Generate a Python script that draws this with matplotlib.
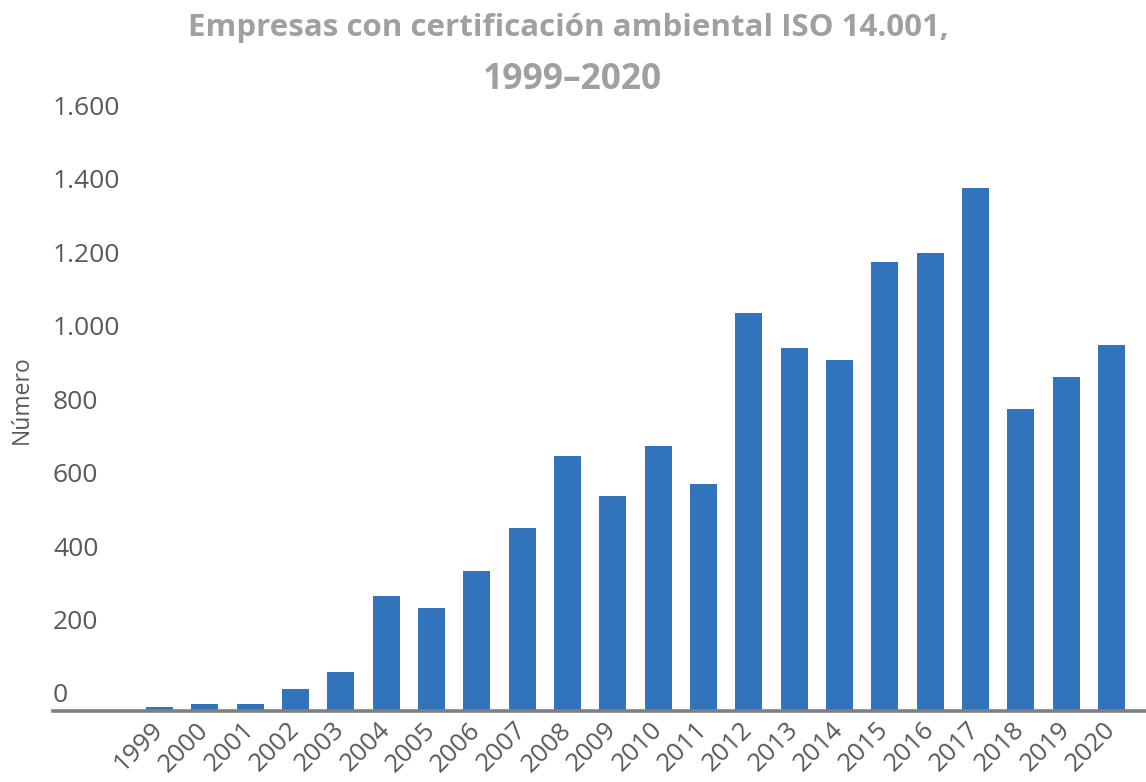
import matplotlib
matplotlib.use("Agg")
import matplotlib.pyplot as plt
import matplotlib.transforms as mtransforms

years = [str(y) for y in range(1999, 2021)]
values = [10, 18, 18, 61, 105, 314, 279, 380, 497, 693, 584, 722, 619,
          1084, 989, 954, 1223, 1245, 1424, 823, 910, 997]
yticks = [0, 200, 400, 600, 800, 1000, 1200, 1400, 1600]
ytick_labels = ["0", "200", "400", "600", "800", "1.000", "1.200", "1.400", "1.600"]

title_line1 = "Empresas con certificación ambiental ISO 14.001,"
title_line2 = "1999–2020"
ylabel = "Número"

W, H = 1146, 782
fig = plt.figure(figsize=(W / 100, H / 100), dpi=100)
ax = fig.add_axes([53 / W, (H - 711) / H, 1 - 53 / W, (711 - 123) / H])

bar_color = "#3274bc"
x = list(range(len(years)))
ax.bar(x, values, width=0.6, color=bar_color, zorder=2)

ax.set_xlim(-2.35, len(years) - 1 + 0.76)
ax.set_ylim(0, 1600)

for s in ["top", "right", "left"]:
    ax.spines[s].set_visible(False)
ax.spines["bottom"].set_color("#808080")
ax.spines["bottom"].set_linewidth(2.6)
ax.spines["bottom"].set_zorder(3)

label_color = "#595959"
font = "Open Sans"

ax.set_yticks(yticks)
ax.set_yticklabels(ytick_labels, fontsize=19, color=label_color, family=font)
ax.tick_params(axis="y", length=0, pad=0)
offset = mtransforms.ScaledTranslation(0, 18 / 100, fig.dpi_scale_trans)
for lbl in ax.get_yticklabels():
    lbl.set_horizontalalignment("left")
    lbl.set_transform(ax.get_yaxis_transform() + offset)
    lbl.set_x(0)

ax.set_xticks(x)
ax.set_xticklabels(years, fontsize=18.5, color=label_color, family=font,
                   rotation=45, ha="right", va="center", rotation_mode="anchor")
ax.tick_params(axis="x", length=0, pad=11)

fig.text(22 / W, 1 - 400 / H, ylabel, rotation=90, ha="center", va="center",
         fontsize=16.5, color=label_color, family=font)

fig.text(568 / W, 1 - 28 / H, title_line1, ha="center", va="center",
         fontsize=22.5, fontweight="bold", color="#a0a0a0", family=font)
fig.text(572 / W, 1 - 80 / H, title_line2, ha="center", va="center",
         fontsize=25.5, fontweight="bold", color="#a0a0a0", family=font)

fig.savefig("out.png", dpi=100)
